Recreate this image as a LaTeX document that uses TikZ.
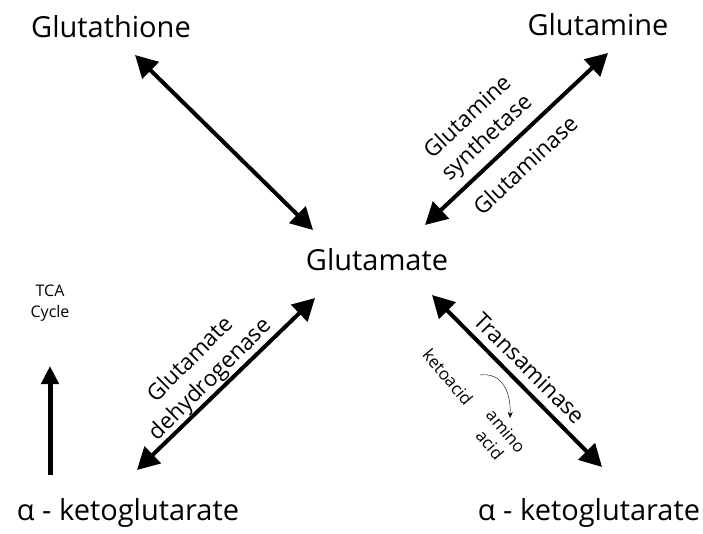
\documentclass[tikz,border=0pt]{standalone}
\usepackage{fontspec}
\setmainfont{Open Sans}
\usetikzlibrary{arrows.meta}

\tikzset{
  metab/.style={font=\fontsize{29}{34}\selectfont, inner sep=0pt, anchor=base},
  enzyme/.style={font=\fontsize{22.5}{28}\selectfont, align=center, inner sep=0pt},
  minor/.style={font=\fontsize{16}{21}\selectfont, align=center, inner sep=0pt},
  side/.style={font=\fontsize{17}{21}\selectfont, align=center, inner sep=0pt, rotate=-50},
  bigarrow/.style={line width=4pt, {Triangle[length=22pt,width=23pt]}-{Triangle[length=22pt,width=23pt]}}
}

\begin{document}
\begin{tikzpicture}[x=1pt,y=-1pt]
\useasboundingbox (0,0) rectangle (703,533);

% metabolites
\node[metab] (gsh) at (111,37) {Glutathione};
\node[metab] (gln) at (598,35) {Glutamine};
\node[metab] (glu) at (377,270) {Glutamate};
\node[metab] (akgl) at (128,520) {α - ketoglutarate};
\node[metab] (akgr) at (589,520) {α - ketoglutarate};
\node[minor, anchor=base] (tca) at (50,317) {TCA\\Cycle};

% arrow ends
\coordinate (gsh1) at (135,55);
\coordinate (gsh2) at (313,230);
\coordinate (gln1) at (608,53);
\coordinate (gln2) at (425,225);
\coordinate (gdh1) at (315,298);
\coordinate (gdh2) at (137,470);
\coordinate (ta1) at (432,295);
\coordinate (ta2) at (602,467);
\coordinate (tca1) at (50,475);
\coordinate (tca2) at (50,366);

\draw [bigarrow] (gsh1) -- (gsh2);
\draw [bigarrow] (gln1) -- (gln2);
\draw [bigarrow] (gdh1) -- (gdh2);
\draw [bigarrow] (ta1) -- (ta2);
\draw [line width=5pt, -{Triangle[length=18pt,width=17pt]}] (tca1) -- (tca2);

% enzymes
\node[enzyme, rotate=43] (gs) at (478,128) {Glutamine\\synthetase};
\node[enzyme, rotate=43] (gls) at (525,165) {Glutaminase};
\node[enzyme, rotate=45] (gdh) at (201,370) {Glutamate\\dehydrogenase};
\node[enzyme, rotate=-45] (tam) at (530,368) {Transaminase};

% side reaction
\node[side] (keto) at (448,377) {ketoacid};
\node[side] (amino) at (498,438) {amino\\acid};
\coordinate (kt1) at (480,375);
\coordinate (kt2) at (510,418);
\draw [-{Stealth[length=6pt,width=5pt]}] (kt1) .. controls (502,372) and (511,392) .. (kt2);
\end{tikzpicture}
\end{document}
